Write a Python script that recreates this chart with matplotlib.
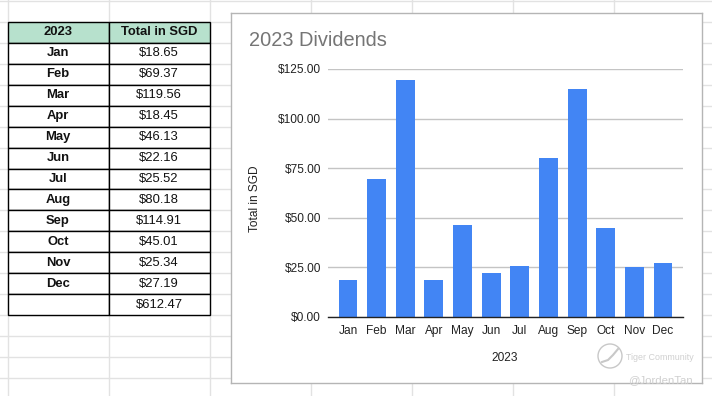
import matplotlib
matplotlib.use("Agg")
import matplotlib.pyplot as plt
from matplotlib.patches import Rectangle, Circle
from matplotlib.ticker import FuncFormatter, MultipleLocator

months = ["Jan", "Feb", "Mar", "Apr", "May", "Jun", "Jul", "Aug", "Sep", "Oct", "Nov", "Dec"]
totals = [18.65, 69.37, 119.56, 18.45, 46.13, 22.16, 25.52, 80.18, 114.91, 45.01, 25.34, 27.19]
grand_total = 612.47
header = ["2023", "Total in SGD"]
title = "2023 Dividends"
x_label = "2023"
y_label = "Total in SGD"

W, H = 712, 396
plt.rcParams["font.family"] = ["Liberation Sans", "DejaVu Sans"]
fig = plt.figure(figsize=(W / 100, H / 100), dpi=100, facecolor="white")

def box(l, t, r, b):
    return [l / W, 1 - b / H, (r - l) / W, (b - t) / H]

# Sheet background grid
bg = fig.add_axes([0, 0, 1, 1], zorder=0)
bg.set_xlim(0, W); bg.set_ylim(H, 0); bg.axis("off")
col_w, row_h = 101, 20.93
k = 0
while 7.5 + k * col_w < W:
    bg.axvline(7.5 + k * col_w, color="#e2e2e2", lw=1)
    k += 1
k = -1
while 22 + k * row_h < H:
    bg.axhline(22 + k * row_h, color="#e2e2e2", lw=1)
    k += 1

# Table
tb = fig.add_axes(box(7.5, 22, 209.5, 315), zorder=1)
tb.axis("off")
rows = [header] + [[m, f"${v:.2f}"] for m, v in zip(months, totals)] + [["", f"${grand_total:.2f}"]]
table = tb.table(cellText=rows, bbox=[0, 0, 1, 1], cellLoc="center")
table.auto_set_font_size(False)
for (r, c), cell in table.get_celld().items():
    cell.set_edgecolor("black")
    cell.set_linewidth(1.0)
    cell.set_facecolor("#b7e1cd" if r == 0 else "white")
    t = cell.get_text()
    t.set_fontsize(9.4)
    t.set_color("#111111")
    if r == 0 or c == 0:
        t.set_fontweight("bold")
    if c == 1 and r == len(rows) - 1:
        pass

# Chart frame
frame = fig.add_axes(box(230.5, 12.5, 702, 383), zorder=2)
frame.set_xticks([]); frame.set_yticks([])
for s in frame.spines.values():
    s.set_color("#b5b5b5"); s.set_linewidth(1.0)
frame.set_facecolor("white")

# Chart
ax = fig.add_axes(box(328, 69, 683, 317), zorder=3)
ax.patch.set_alpha(0)
x = range(len(months))
ax.bar(x, totals, width=0.66, color="#4285f4", zorder=3)
for b in ax.patches:
    b.set_joinstyle("round")
ax.set_xlim(-0.7, 11.7)
ax.set_ylim(0, 125)
ax.yaxis.set_major_locator(MultipleLocator(25))
ax.yaxis.set_major_formatter(FuncFormatter(lambda v, _: f"${v:.2f}"))
ax.set_xticks(list(x), months)
ax.grid(axis="y", color="#c4c4c4", lw=1, zorder=1)
ax.tick_params(length=0, labelsize=8.6, labelcolor="#222222")
ax.tick_params(axis="x", pad=6)
ax.tick_params(axis="y", pad=5)
for s in ["top", "left", "right"]:
    ax.spines[s].set_visible(False)
ax.spines["bottom"].set_color("#222222")
ax.spines["bottom"].set_linewidth(1.0)
ax.spines["bottom"].set_zorder(4)

fig.text(249 / W, 1 - 41 / H, title, fontsize=14.4, color="#757575", va="center", ha="left", zorder=5)
fig.text(505 / W, 1 - 358 / H, x_label, fontsize=8.6, color="#222222", ha="center", va="center", zorder=5)
fig.text(254.5 / W, 1 - 199 / H, y_label, fontsize=8.6, color="#222222", rotation=90, ha="center", va="center", zorder=5)

# Watermark
ov = fig.add_axes([0, 0, 1, 1], zorder=6)
ov.set_xlim(0, W); ov.set_ylim(H, 0); ov.axis("off")
ov.add_patch(Circle((610, 356), 12, fill=False, ec="#c8c8c8", lw=1))
ov.plot([602, 608, 613, 618], [362, 360, 355, 349], color="#c8c8c8", lw=1.5)
ov.text(626, 357, "Tiger Community", fontsize=6.4, color="#d0d0d0", va="center", ha="left")
ov.text(628, 380, "@JordenTan", fontsize=8.2, color="#cfcfcf", va="center", ha="left")

fig.savefig("out.png", dpi=100, facecolor="white")
